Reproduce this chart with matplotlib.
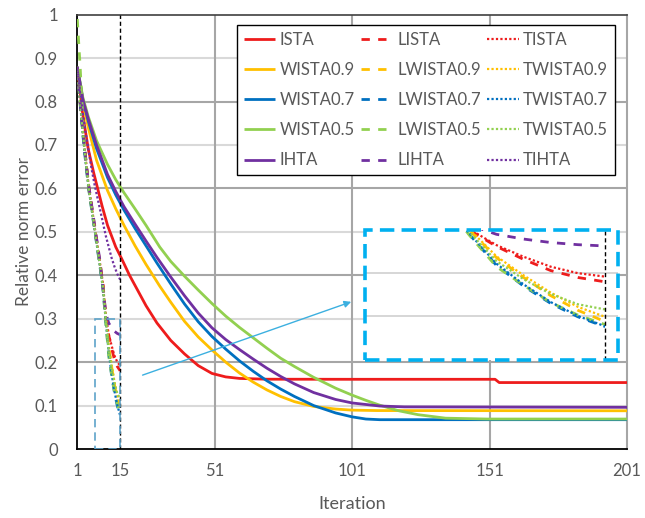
import numpy as np
import matplotlib
matplotlib.use("Agg")
import matplotlib.pyplot as plt
from matplotlib.patches import Rectangle

plt.rcParams['font.family'] = ['Lato', 'DejaVu Sans']

# ---------------- data ----------------
# classic algorithms: (iteration, value) samples
ista_it = [1, 3, 5, 7, 10, 12, 15, 17, 20, 23, 26, 30, 35, 40, 45, 50, 55, 60, 70, 100, 153, 154.5, 201]
ista_v = [0.88, 0.77, 0.69, 0.635, 0.56, 0.515, 0.465, 0.44, 0.40, 0.365, 0.33, 0.29, 0.25, 0.219, 0.192,
          0.174, 0.166, 0.1625, 0.1607, 0.1605, 0.1605, 0.153, 0.153]

w09_it = [1, 3, 5, 8, 12, 15, 18, 22, 26, 31, 35, 40, 45, 50, 55, 60, 65, 70, 75, 80, 87, 95, 101, 110, 201]
w09_v = [0.88, 0.80, 0.74, 0.665, 0.595, 0.553, 0.515, 0.468, 0.425, 0.375, 0.338, 0.294, 0.258, 0.228, 0.20,
         0.175, 0.154, 0.136, 0.121, 0.109, 0.098, 0.092, 0.0895, 0.0885, 0.088]

w07_it = [1, 3, 5, 8, 12, 15, 18, 22, 26, 30, 35, 40, 45, 50, 55, 60, 65, 70, 75, 80, 87, 95, 101, 106, 111, 201]
w07_v = [0.88, 0.805, 0.755, 0.692, 0.625, 0.585, 0.55, 0.508, 0.468, 0.428, 0.38, 0.334, 0.293, 0.259, 0.23,
         0.203, 0.179, 0.157, 0.138, 0.121, 0.100, 0.083, 0.074, 0.069, 0.0675, 0.0675]

w05_it = [1, 3, 5, 8, 12, 15, 18, 22, 26, 31, 35, 40, 45, 50, 55, 60, 65, 70, 75, 80, 87, 95, 101, 106, 111,
          118, 125, 135, 150, 201]
w05_v = [0.88, 0.81, 0.765, 0.71, 0.655, 0.62, 0.59, 0.553, 0.515, 0.465, 0.432, 0.398, 0.366, 0.335, 0.306,
         0.28, 0.256, 0.232, 0.209, 0.19, 0.165, 0.14, 0.124, 0.112, 0.101, 0.088, 0.079, 0.071, 0.069, 0.069]

ihta_it = [1, 3, 5, 8, 12, 15, 18, 22, 26, 30, 35, 40, 45, 50, 55, 60, 65, 70, 75, 80, 87, 95, 101, 111, 120, 201]
ihta_v = [0.88, 0.805, 0.76, 0.70, 0.632, 0.593, 0.558, 0.518, 0.479, 0.441, 0.396, 0.353, 0.313, 0.279, 0.252,
          0.229, 0.207, 0.186, 0.167, 0.15, 0.13, 0.114, 0.106, 0.099, 0.097, 0.096]

# learned / trained networks: 16 layer outputs, last one drawn at the "15" mark
X15 = 16.6
n_layers = 16
lista_v = [0.875, 0.80, 0.73, 0.665, 0.605, 0.56, 0.515, 0.47, 0.425, 0.38, 0.30, 0.262, 0.232, 0.206, 0.19, 0.18]
tista_v = [0.875, 0.80, 0.73, 0.665, 0.605, 0.56, 0.515, 0.47, 0.425, 0.38, 0.302, 0.265, 0.238, 0.215, 0.200, 0.192]
lw09_v = [0.875, 0.795, 0.725, 0.66, 0.60, 0.555, 0.51, 0.465, 0.42, 0.372, 0.30, 0.236, 0.19, 0.148, 0.114, 0.088]
tw09_v = [0.875, 0.795, 0.725, 0.66, 0.60, 0.555, 0.51, 0.465, 0.42, 0.372, 0.302, 0.239, 0.195, 0.155, 0.122, 0.099]
lw07_v = [0.875, 0.795, 0.72, 0.655, 0.598, 0.552, 0.507, 0.462, 0.417, 0.367, 0.29, 0.218, 0.17, 0.13, 0.099, 0.076]
tw07_v = [0.875, 0.795, 0.72, 0.655, 0.598, 0.552, 0.507, 0.462, 0.417, 0.367, 0.292, 0.222, 0.174, 0.133, 0.101, 0.077]
lw05_v = [0.99, 0.88, 0.75, 0.665, 0.60, 0.555, 0.51, 0.465, 0.42, 0.37, 0.288, 0.215, 0.172, 0.132, 0.103, 0.081]
tw05_v = [0.875, 0.80, 0.725, 0.66, 0.60, 0.555, 0.51, 0.465, 0.42, 0.37, 0.295, 0.228, 0.186, 0.152, 0.128, 0.116]
lihta_v = [0.875, 0.80, 0.73, 0.665, 0.607, 0.562, 0.518, 0.474, 0.43, 0.37, 0.312, 0.29, 0.279, 0.271, 0.266, 0.263]
tihta_v = [0.875, 0.82, 0.77, 0.725, 0.685, 0.645, 0.61, 0.58, 0.55, 0.52, 0.49, 0.465, 0.44, 0.42, 0.403, 0.39]

xtick_pos = [1, X15, 51, 101, 151, 201]
xtick_lab = ['1', '15', '51', '101', '151', '201']
ytick_pos = [0, 0.1, 0.2, 0.3, 0.4, 0.5, 0.6, 0.7, 0.8, 0.9, 1.0]
ytick_lab = ['0', '0.1', '0.2', '0.3', '0.4', '0.5', '0.6', '0.7', '0.8', '0.9', '1']

RED, YEL, BLU, GRN, PUR = '#ee1c1c', '#ffc000', '#0070c0', '#92d050', '#7030a0'
TXT = '#595959'

layer_x = np.linspace(1, X15, n_layers)

solid = [(ista_it, ista_v, RED, 'ISTA'), (w09_it, w09_v, YEL, 'WISTA0.9'), (w07_it, w07_v, BLU, 'WISTA0.7'),
         (w05_it, w05_v, GRN, 'WISTA0.5'), (ihta_it, ihta_v, PUR, 'IHTA')]
dashed = [(lista_v, RED, 'LISTA'), (lw09_v, YEL, 'LWISTA0.9'), (lw07_v, BLU, 'LWISTA0.7'),
          (lw05_v, GRN, 'LWISTA0.5'), (lihta_v, PUR, 'LIHTA')]
dotted = [(tista_v, RED, 'TISTA'), (tw09_v, YEL, 'TWISTA0.9'), (tw07_v, BLU, 'TWISTA0.7'),
          (tw05_v, GRN, 'TWISTA0.5'), (tihta_v, PUR, 'TIHTA')]

fig = plt.figure(figsize=(6.45, 5.18), dpi=100)
ax = fig.add_axes([77.3 / 645, 1 - 449 / 518, (627 - 77.3) / 645, (449 - 14.7) / 518])
ax.set_xlim(1, 201)
ax.set_ylim(0, 1)

# grid
for y in [0.1, 0.3, 0.5, 0.7, 0.9]:
    ax.axhline(y, color='#d9d9d9', lw=1.5, zorder=0)
for y in [0.2, 0.4, 0.6, 0.8]:
    ax.axhline(y, color='#a6a6a6', lw=1.5, zorder=0)
for x in [51, 101, 151]:
    ax.axvline(x, color='#a6a6a6', lw=1.5, zorder=0)
ax.axvline(X15, color='black', lw=1.0, ls=(0, (3, 2)), zorder=5)

LW = 2.0
DASH = (0, (3, 3))
DOT = (0, (1, 1))


def draw_all(a):
    hs = {}
    for it, v, c, lab in solid:
        h, = a.plot(it, v, color=c, lw=LW, solid_capstyle='butt', solid_joinstyle='round',
                    label=lab, zorder=3)
        hs[lab] = h
    for v, c, lab in dashed:
        h, = a.plot(layer_x, v, color=c, lw=LW, ls=DASH, label=lab, zorder=4)
        hs[lab] = h
    for v, c, lab in dotted:
        h, = a.plot(layer_x, v, color=c, lw=1.6, ls=DOT, label=lab, zorder=4)
        hs[lab] = h
    return hs


hs = draw_all(ax)

# zoom box in main axes
ax.add_patch(Rectangle((7.4, 0), X15 - 7.4, 0.3, fill=False, ec='#5ea3c9', lw=1.2,
                       ls=(0, (5, 3)), zorder=6))
# arrow to inset
ax.annotate('', xy=(101.6, 0.341), xytext=(23.8, 0.168),
            arrowprops=dict(arrowstyle='-|>', color='#3cb0e0', lw=1.0, mutation_scale=10), zorder=7)

# spines / ticks
for s in ['left', 'bottom']:
    ax.spines[s].set_color('black')
    ax.spines[s].set_linewidth(1.3)
ax.spines['top'].set_color('#404040')
ax.spines['top'].set_linewidth(1.2)
ax.spines['right'].set_color('#a6a6a6')
ax.spines['right'].set_linewidth(1.5)
ax.set_xticks(xtick_pos)
ax.set_xticklabels(xtick_lab)
ax.set_yticks(ytick_pos)
ax.set_yticklabels(ytick_lab)
ax.tick_params(axis='both', length=0, labelsize=12, colors=TXT)
ax.tick_params(axis='y', pad=14)
ax.tick_params(axis='x', pad=10)
ax.set_xlabel('Iteration', fontsize=13, color=TXT, labelpad=12)
ax.set_ylabel('Relative norm error', fontsize=12.5, color=TXT, labelpad=2)

order = ['ISTA', 'WISTA0.9', 'WISTA0.7', 'WISTA0.5', 'IHTA',
         'LISTA', 'LWISTA0.9', 'LWISTA0.7', 'LWISTA0.5', 'LIHTA',
         'TISTA', 'TWISTA0.9', 'TWISTA0.7', 'TWISTA0.5', 'TIHTA']
leg = ax.legend([hs[k] for k in order], order, ncol=3, loc='upper left',
                bbox_to_anchor=(0.2905, 0.976), fontsize=12, frameon=True, fancybox=False,
                edgecolor='black', framealpha=1, handlelength=1.9, handletextpad=0.25,
                columnspacing=0.4, labelspacing=0.85, borderpad=0.4, borderaxespad=0)
leg.get_frame().set_linewidth(1.0)
for t in leg.get_texts():
    t.set_color(TXT)
leg.set_zorder(10)

# inset
iax = fig.add_axes([365 / 645, 1 - 359.5 / 518, (618 - 365) / 645, (359.5 - 230) / 518])
iax.set_xlim(7.4, 17.1)
iax.set_ylim(0, 0.3)
iax.set_facecolor('white')
for y in [0.1, 0.2]:
    iax.axhline(y, color='#d0d0d0', lw=1.2, zorder=0)
iax.axvline(X15, color='black', lw=1.0, ls=(0, (3, 2)), zorder=5)
draw_all(iax)
iax.set_xticks([])
iax.set_yticks([])
for s in iax.spines.values():
    s.set_visible(False)
iax.add_patch(Rectangle((0, 0), 1, 1, transform=iax.transAxes, fill=False, ec='#00b0f0',
                        lw=2.6, ls=(0, (4, 2)), clip_on=False, zorder=8))

fig.savefig('out.png', dpi=100)
